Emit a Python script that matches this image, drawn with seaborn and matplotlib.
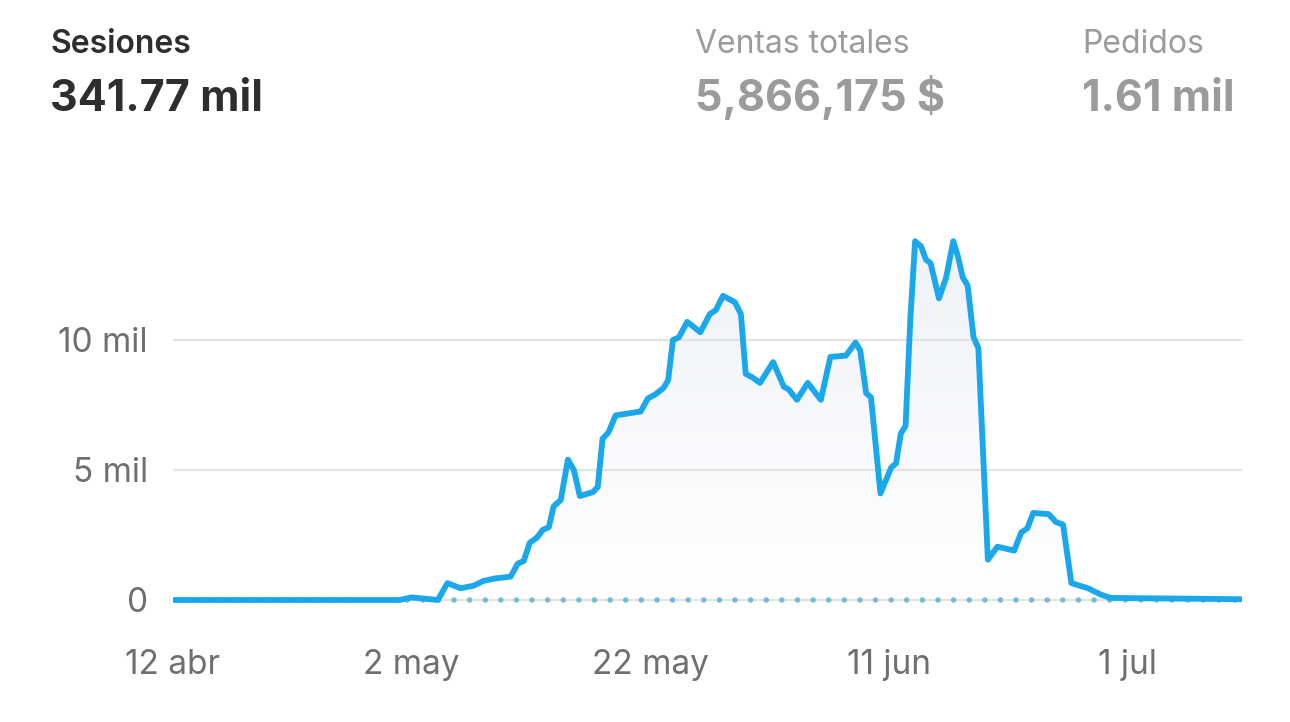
"""Sesiones por día con cabecera de métricas."""

import matplotlib.pyplot as plt
import matplotlib.colors as mcolors
import matplotlib.dates as mdates
import numpy as np
import pandas as pd
import seaborn as sns

START = pd.Timestamp("2024-04-12")

# day offsets from 12 abr and sessions (miles)
day_offsets = [0, 19.0, 20.0, 21.1, 22.2, 23.0, 24.1, 25.2, 26.0, 27.0, 28.3, 28.9, 29.4,
               29.9, 30.5, 31.0, 31.5, 31.9, 32.5, 33.1, 33.6, 34.1, 35.2, 35.6, 36.0,
               36.5, 37.1, 39.2, 39.8, 40.4, 41.1, 41.5, 41.9, 42.4, 43.1, 44.2, 45.0,
               45.5, 46.1, 47.1, 47.6, 48.0, 48.6, 49.2, 50.3, 51.2, 51.6, 52.3, 53.2,
               54.3, 55.1, 56.4, 57.2, 57.6, 58.1, 58.5, 59.3, 60.2, 60.6, 61.0, 61.4,
               61.8, 62.2, 62.7, 63.1, 63.5, 64.2, 64.8, 65.4, 65.8, 66.2, 66.6, 67.1,
               67.5, 68.3, 69.1, 70.5, 71.1, 71.6, 72.1, 73.4, 74.0, 74.6, 75.3, 76.7,
               77.8, 78.6, 89.6]
sessions_k = [0, 0, 0.1, 0.05, 0, 0.65, 0.45, 0.55, 0.73, 0.83, 0.9, 1.4, 1.5,
              2.2, 2.4, 2.7, 2.8, 3.6, 3.85, 5.4, 5.0, 4.0, 4.15, 4.35, 6.2,
              6.45, 7.1, 7.25, 7.75, 7.9, 8.15, 8.45, 10.0, 10.1, 10.7, 10.3, 11.0,
              11.15, 11.7, 11.45, 11.0, 8.7, 8.55, 8.35, 9.15, 8.2, 8.1, 7.7, 8.35,
              7.7, 9.35, 9.4, 9.9, 9.6, 7.95, 7.8, 4.1, 5.1, 5.25, 6.4, 6.7,
              10.8, 13.8, 13.6, 13.1, 12.95, 11.6, 12.4, 13.8, 13.2, 12.4, 12.1, 10.1,
              9.7, 1.55, 2.05, 1.9, 2.6, 2.75, 3.35, 3.3, 3.0, 2.9, 0.65, 0.45,
              0.2, 0.08, 0.03]

tick_days = [0, 20, 40, 60, 80]
tick_labels = ["12 abr", "2 may", "22 may", "11 jun", "1 jul"]
ytick_values = [0, 5000, 10000]
ytick_labels = ["0", "5 mil", "10 mil"]

metric_titles = ["Sesiones", "Ventas totales", "Pedidos"]
metric_values = ["341.77 mil", "5,866,175 $", "1.61 mil"]

LINE = "#1aa7ec"

df = pd.DataFrame({
    "fecha": START + pd.to_timedelta(day_offsets, unit="D"),
    "sesiones": np.array(sessions_k) * 1000,
})

sns.set_style("white")
plt.rcParams["font.family"] = ["Inter", "DejaVu Sans"]

fig = plt.figure(figsize=(12.9, 7.22), dpi=100)
ax = fig.add_axes([173 / 1290, 109 / 722, 1069 / 1290, 390 / 722])

# soft gradient under the curve
x0, x1 = START, START + pd.Timedelta(days=89.6)
poly = ax.fill_between(df["fecha"], df["sesiones"], 0, color="none", lw=0)
grad = np.linspace(0, 1, 256).reshape(-1, 1)
cmap = mcolors.LinearSegmentedColormap.from_list("g", ["#ffffff", "#eef2f8"])
img = ax.imshow(grad, cmap=cmap, aspect="auto", origin="lower",
                extent=[mdates.date2num(x0), mdates.date2num(x1), 0, 14000],
                zorder=0.5)
img.set_clip_path(poly.get_paths()[0], transform=ax.transData)

for y in ytick_values:
    ax.axhline(y, color="#e3e3e6", lw=1.6, zorder=0.6)
ax.axhline(0, color="#78b9d8", lw=4.0, linestyle=(0, (0.01, 2.8)),
           dash_capstyle="round", zorder=0.7)

sns.lineplot(data=df, x="fecha", y="sesiones", ax=ax, color=LINE, lw=4.2,
             solid_joinstyle="round", solid_capstyle="round", zorder=3)

ax.set_xlim(x0, x1)
ax.set_ylim(-500, 14500)
ax.set_xticks(START + pd.to_timedelta(tick_days, unit="D"))
ax.set_xticklabels(tick_labels)
ax.set_yticks(ytick_values)
ax.set_yticklabels(ytick_labels)
ax.tick_params(axis="both", length=0, labelsize=24, colors="#6e6e73")
ax.tick_params(axis="x", pad=26)
ax.tick_params(axis="y", pad=18)
ax.set_xlabel("")
ax.set_ylabel("")
for s in ax.spines.values():
    s.set_visible(False)

# header metrics
xs = [50, 695, 1082]
for i, (t, v) in enumerate(zip(metric_titles, metric_values)):
    col = "#2e2e30" if i == 0 else "#9b9b9b"
    fig.text(xs[i] / 1290, 1 - 53 / 722, t, fontsize=23, color=col,
             fontweight="semibold" if i == 0 else "normal", va="baseline")
    fig.text(xs[i] / 1290, 1 - 111 / 722, v, fontsize=31, color=col,
             fontweight="bold", va="baseline")

fig.savefig("out.png", dpi=100)
plt.close(fig)
